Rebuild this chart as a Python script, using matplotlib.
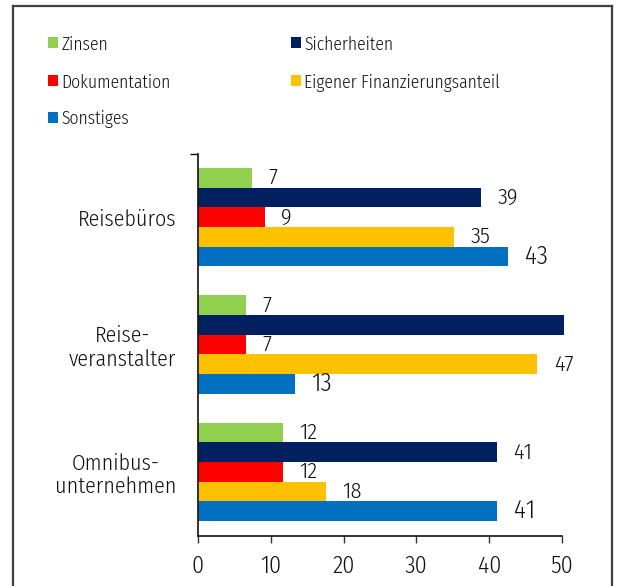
import matplotlib
matplotlib.use("Agg")
import matplotlib.pyplot as plt
import numpy as np
from matplotlib.patches import Rectangle
from matplotlib.lines import Line2D

FONTS = ['Fira Sans Condensed', 'Roboto Condensed', 'Archivo Narrow', 'Asap Condensed', 'DejaVu Sans']
plt.rcParams['font.family'] = FONTS
WEIGHT = 350

categories = ["Reisebüros", "Reise-\nveranstalter", "Omnibus-\nunternehmen"]
series = ["Zinsen", "Sicherheiten", "Dokumentation", "Eigener Finanzierungsanteil", "Sonstiges"]
colors = ["#92D050", "#002060", "#FF0000", "#FFC000", "#0070C0"]
values = {
    "Zinsen":                      [7.4, 6.6, 11.7],
    "Sicherheiten":                [38.9, 50.3, 41.1],
    "Dokumentation":               [9.2, 6.6, 11.7],
    "Eigener Finanzierungsanteil": [35.2, 46.6, 17.6],
    "Sonstiges":                   [42.6, 13.3, 41.1],
}
labels = {
    "Zinsen":                      ["7", "7", "12"],
    "Sicherheiten":                ["39", "", "41"],
    "Dokumentation":               ["9", "7", "12"],
    "Eigener Finanzierungsanteil": ["35", "47", "18"],
    "Sonstiges":                   ["43", "13", "41"],
}
xticks = [0, 10, 20, 30, 40, 50]

W, H = 617, 586
fig = plt.figure(figsize=(W / 100, H / 100), dpi=100)
renderer = fig.canvas.get_renderer()


def fit_size(text, target_px, base=12.0):
    t = fig.text(0, 0, text, fontsize=base, fontweight=WEIGHT)
    w = t.get_window_extent(renderer).width
    t.remove()
    return base * target_px / w


legend_fs = fit_size("Eigener Finanzierungsanteil", 198)
ytick_fs = fit_size("unternehmen", 122)
xtick_fs = fit_size("50", 22.5)
dl_fs = fit_size("39", 20.5)
label_sizes = [dl_fs, dl_fs, dl_fs, dl_fs, dl_fs * 1.12]


def fx(px):
    return px / W


def fy(py):
    return 1 - py / H


# outer frame
fc = "#404040"
fig.add_artist(Line2D([fx(12.5), fx(12.5)], [0, fy(6)], color=fc, lw=1.6))
fig.add_artist(Line2D([fx(12.5), fx(612)], [fy(6), fy(6)], color=fc, lw=1.6))
fig.add_artist(Line2D([fx(612), fx(612)], [0, fy(6)], color=fc, lw=1.6))

ax = fig.add_axes([fx(198), fy(535.5), fx(562 - 198), (535.5 - 153.5) / H])

n = len(series)
bh = 0.154
y = np.arange(len(categories))
for i, s in enumerate(series):
    pos = y - (n - 1) / 2 * bh + i * bh
    bars = ax.barh(pos, values[s], height=bh, color=colors[i], clip_on=False, label=s)
    for b, lab in zip(bars, labels[s]):
        if lab:
            ax.annotate(lab, (b.get_width(), b.get_y() + b.get_height() / 2),
                        xytext=(11.8, 0), textcoords="offset points",
                        ha="left", va="center", fontsize=label_sizes[i],
                        fontweight=WEIGHT, color="#111111")

ax.set_xlim(0, 50)
ax.set_ylim(2.5, -0.5)
ax.set_xticks(xticks)
ax.set_xticklabels([str(t) for t in xticks], fontsize=xtick_fs, fontweight=WEIGHT)
ax.tick_params(axis="x", length=5, width=1, color="#333333", pad=9, labelcolor="#111111")
ax.set_yticks(y)
ax.set_yticklabels(categories, fontsize=ytick_fs, color="#111111", linespacing=1.15,
                   fontweight=WEIGHT, multialignment="center")
ax.tick_params(axis="y", length=0, pad=15.8)
ax.set_yticks([-0.5], minor=True)
ax.tick_params(axis="y", which="minor", length=6, width=1, color="#111111")
for sp in ["top", "right"]:
    ax.spines[sp].set_visible(False)
for sp in ["left", "bottom"]:
    ax.spines[sp].set_linewidth(1.2)
    ax.spines[sp].set_color("#111111")

# legend (two columns, row-major as in the reference)
col_x = [48, 291]
row_y = [42.7, 80.5, 117]
for k, s in enumerate(series):
    cx = col_x[k % 2]
    cy = row_y[k // 2]
    fig.add_artist(Rectangle((fx(cx), fy(cy + 5.5)), 10 / W, 11 / H,
                             transform=fig.transFigure, color=colors[k], lw=0))
    fig.text(fx(cx + 13.5), fy(cy), s, fontsize=legend_fs, fontweight=WEIGHT,
             ha="left", va="center_baseline", color="#111111")

fig.savefig("out.png", dpi=100)
